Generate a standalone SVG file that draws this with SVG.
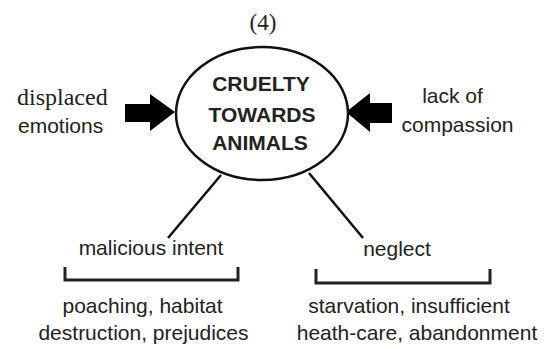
<svg xmlns="http://www.w3.org/2000/svg" width="550" height="349" viewBox="0 0 550 349">
<style>
.sans{font-family:"Liberation Sans",Arial,sans-serif;font-size:21px;fill:#222}
.serif{font-family:"Liberation Serif","Times New Roman",serif;fill:#222}
.bold{font-family:"Liberation Sans",Arial,sans-serif;font-size:21px;font-weight:bold;fill:#222}
.line{stroke:#111;stroke-width:2.5;fill:none}
.bracket{stroke:#222;stroke-width:3;fill:none}
.arrow{fill:#000}
</style>
<rect width="550" height="349" fill="#fff"/>
<text class="serif" x="263" y="30" font-size="23" text-anchor="middle">(4)</text>
<g id="connectors">
<line class="line" x1="221" y1="175" x2="168" y2="238"/>
<line class="line" x1="309" y1="173" x2="363" y2="238"/>
<polygon class="arrow" points="125,104 150,104 150,94 175,112 150,131 150,122 125,122"/>
<polygon class="arrow" points="392,103 370,103 370,93 346,112 370,132 370,123 392,123"/>
</g>
<g id="center">
<ellipse cx="262" cy="113.5" rx="86" ry="66.5" fill="#fff" stroke="#111" stroke-width="2.5"/>
<text class="bold" x="261" y="91" text-anchor="middle">CRUELTY</text>
<text class="bold" x="262" y="122" text-anchor="middle">TOWARDS</text>
<text class="bold" x="260" y="150" text-anchor="middle">ANIMALS</text>
</g>
<g id="displaced">
<text class="serif" x="17" y="105" font-size="24">displaced</text>
<text class="sans" x="18" y="133" font-size="20.5">emotions</text>
</g>
<g id="lack">
<text class="sans" x="452.5" y="103" text-anchor="middle">lack of</text>
<text class="sans" x="457.5" y="132" text-anchor="middle">compassion</text>
</g>
<g id="malicious">
<text class="sans" x="151" y="255" text-anchor="middle">malicious intent</text>
<polyline class="bracket" points="65,267 65,280 238,280 238,267"/>
<text class="sans" x="142.5" y="313" text-anchor="middle">poaching, habitat</text>
<text class="sans" x="143.5" y="340" text-anchor="middle">destruction, prejudices</text>
</g>
<g id="neglect">
<text class="sans" x="397" y="256" text-anchor="middle">neglect</text>
<polyline class="bracket" points="316,269 316,283 490,283 490,269"/>
<text class="sans" x="409" y="313" text-anchor="middle">starvation, insufficient</text>
<text class="sans" x="417" y="340" text-anchor="middle">heath-care, abandonment</text>
</g>
</svg>
